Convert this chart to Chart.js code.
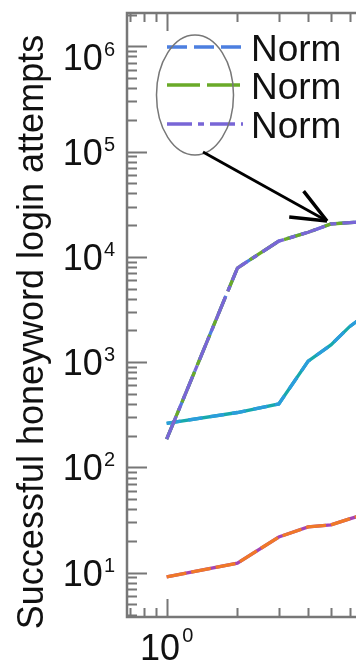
<!DOCTYPE html>
<html>
<head>
<meta charset="utf-8">
<script src="https://cdn.jsdelivr.net/npm/chart.js@4.4.1/dist/chart.umd.min.js"></script>
<style>
html, body { margin: 0; padding: 0; background: #fff; overflow: hidden; }
#wrap { position: relative; width: 500px; height: 662px; }
</style>
</head>
<body>
<div id="wrap"><canvas id="plots"></canvas></div>
<script>
// x positions on the log axis
var xVals = [1, 2, 3, 4, 5, 6, 7];
// the three "Norm" curves sit on top of each other
var normVals = [185, 7830, 14100, 17100, 20500, 21100, 21600];
var tealVals = [262, 332, 400, 1020, 1455, 2170, 2800];
var orangeVals = [9.1, 12.3, 21.8, 27.2, 28.4, 32.4, 36];
var legendLabels = ["Norm", "Norm", "Norm"];
var yTitle = "Successful honeyword login attempts";
var yExps = [1, 2, 3, 4, 5, 6]; // labelled decades on y
var xExps = [0, 1];             // labelled decades on x
var yRange = [3.79, 2.07e6];
var xRange = [0.678, 26.2];

var FONT = '"Liberation Sans", Arial, sans-serif';

function pts(vals) {
    return xVals.map(function (x, i) { return { x: x, y: vals[i] }; });
}

function line(label, vals, color, dash, order) {
    return {
        label: label,
        data: pts(vals),
        borderColor: color,
        borderWidth: 3.3,
        borderDash: dash,
        pointRadius: 0,
        fill: false,
        tension: 0,
        order: order
    };
}

var datasets = [
    line(legendLabels[0], normVals, '#4c7fe0', [20, 7], 3),
    line(legendLabels[1], normVals, '#6aaa28', [33, 7], 2),
    line(legendLabels[2], normVals, '#7866d6', [25, 6, 6, 6], 1),
    line('', tealVals, '#17a9ad', [], 5),
    line('', tealVals, '#2b9ddc', [14, 8], 4),
    line('', orangeVals, '#a444b4', [], 7),
    line('', orangeVals, '#f07828', [20, 5], 6)
];

// frame, inward ticks, labels, legend and the ellipse/arrow note
var decorations = {
    id: 'decorations',
    beforeDatasetsDraw: function (chart) {
        var ctx = chart.ctx, a = chart.chartArea;
        var xs = chart.scales.x, ys = chart.scales.y;
        ctx.save();
        ctx.strokeStyle = '#777';
        ctx.lineWidth = 2;
        // y ticks (left + right)
        for (var e = 0; e <= 7; e++) {
            for (var m = 1; m <= 9; m++) {
                var v = m * Math.pow(10, e);
                if (v < yRange[0] || v > yRange[1]) continue;
                var y = Math.round(ys.getPixelForValue(v)) + 0.5;
                var len = m === 1 ? 20 : 10;
                ctx.beginPath();
                ctx.moveTo(a.left, y); ctx.lineTo(a.left + len, y);
                ctx.moveTo(a.right, y); ctx.lineTo(a.right - len, y);
                ctx.stroke();
            }
        }
        // x ticks (bottom + top)
        for (var e2 = -1; e2 <= 2; e2++) {
            for (var m2 = 1; m2 <= 9; m2++) {
                var v2 = m2 * Math.pow(10, e2);
                if (v2 < xRange[0] || v2 > xRange[1]) continue;
                var x = Math.round(xs.getPixelForValue(v2)) + 0.5;
                var len2 = m2 === 1 ? 18 : 9;
                ctx.beginPath();
                ctx.moveTo(x, a.bottom); ctx.lineTo(x, a.bottom - len2);
                ctx.moveTo(x, a.top); ctx.lineTo(x, a.top + len2);
                ctx.stroke();
            }
        }
        ctx.lineWidth = 2.5;
        ctx.strokeRect(a.left, a.top, a.right - a.left, a.bottom - a.top);
        ctx.restore();
    },
    afterDraw: function (chart) {
        var ctx = chart.ctx, a = chart.chartArea;
        var xs = chart.scales.x, ys = chart.scales.y;
        ctx.save();
        ctx.fillStyle = '#111';
        ctx.textBaseline = 'alphabetic';

        // y tick labels 10^n
        yExps.forEach(function (e) {
            var y = ys.getPixelForValue(Math.pow(10, e));
            y = Math.max(y, a.top + 44);
            ctx.font = '20px ' + FONT;
            var we = ctx.measureText(String(e)).width;
            var right = a.left - 12;
            ctx.fillText(String(e), right - we, y - 1);
            ctx.font = '36px ' + FONT;
            ctx.textAlign = 'right';
            ctx.fillText('10', right - we - 1, y + 13);
            ctx.textAlign = 'left';
        });

        // x tick labels 10^n
        xExps.forEach(function (e) {
            var x = xs.getPixelForValue(Math.pow(10, e));
            ctx.font = '36px ' + FONT;
            var w10 = ctx.measureText('10').width;
            ctx.font = '20px ' + FONT;
            var we = ctx.measureText(String(e)).width;
            var left = x - (w10 + 2 + we) / 2;
            ctx.textAlign = 'left';
            ctx.fillText(String(e), left + w10 + 2, 642);
            ctx.font = '36px ' + FONT;
            ctx.fillText('10', left, 660);
        });

        // y axis title
        ctx.save();
        ctx.translate(43, 332);
        ctx.rotate(-Math.PI / 2);
        ctx.font = '36px ' + FONT;
        ctx.textAlign = 'center';
        ctx.fillText(yTitle, 0, 0);
        ctx.restore();

        // legend for the first three series
        var rows = [47, 85, 124];
        for (var i = 0; i < 3; i++) {
            var ds = chart.data.datasets[i];
            ctx.strokeStyle = ds.borderColor;
            ctx.lineWidth = 3.3;
            ctx.setLineDash(ds.borderDash);
            ctx.beginPath();
            ctx.moveTo(167, rows[i]);
            ctx.lineTo(243, rows[i]);
            ctx.stroke();
            ctx.setLineDash([]);
            ctx.font = '37px ' + FONT;
            ctx.textAlign = 'left';
            ctx.fillText(ds.label, 251, rows[i] + 14);
        }

        // ellipse round the legend lines
        ctx.strokeStyle = '#777';
        ctx.lineWidth = 1.5;
        ctx.beginPath();
        ctx.ellipse(195, 95, 38.5, 60, 0, 0, Math.PI * 2);
        ctx.stroke();

        // arrow from ellipse to the curve
        var x0 = 203, y0 = 152, x1 = 327, y1 = 221;
        var ang = Math.atan2(y1 - y0, x1 - x0);
        ctx.strokeStyle = '#000';
        ctx.lineWidth = 2.8;
        ctx.beginPath();
        ctx.moveTo(x0, y0); ctx.lineTo(x1, y1);
        ctx.stroke();
        ctx.lineWidth = 3.5;
        ctx.beginPath();
        [-0.4, 0.4].forEach(function (d) {
            ctx.moveTo(x1, y1);
            ctx.lineTo(x1 - 38 * Math.cos(ang + d), y1 - 38 * Math.sin(ang + d));
        });
        ctx.stroke();
        ctx.restore();
    }
};

var plots = document.getElementById("plots");
new Chart(plots, {
    type: 'line',
    data: { datasets: datasets },
    options: {
        responsive: true,
        maintainAspectRatio: false,
        animation: false,
        layout: { padding: { top: 13, left: 0, right: 0, bottom: 0 }, autoPadding: false },
        plugins: { legend: { display: false }, tooltip: { enabled: false } },
        scales: {
            x: {
                type: 'logarithmic',
                min: xRange[0],
                max: xRange[1],
                ticks: { display: false },
                grid: { display: false },
                border: { display: false },
                afterFit: function (s) { s.height = 45; }
            },
            y: {
                type: 'logarithmic',
                min: yRange[0],
                max: yRange[1],
                ticks: { display: false },
                grid: { display: false },
                border: { display: false },
                afterFit: function (s) { s.width = 127; }
            }
        }
    },
    plugins: [decorations]
});
</script>
</body>
</html>
